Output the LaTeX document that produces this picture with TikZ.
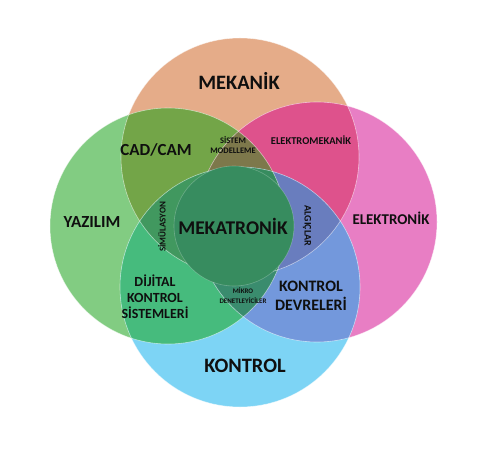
\documentclass[tikz,border=0pt]{standalone}
\usepackage{fontspec}
\setmainfont{Carlito}
\definecolor{cO}{RGB}{229,172,137}
\definecolor{cG}{RGB}{130,204,130}
\definecolor{cP}{RGB}{232,126,196}
\definecolor{cB}{RGB}{125,212,245}
\definecolor{cOG}{RGB}{115,165,72}
\definecolor{cOP}{RGB}{222,82,140}
\definecolor{cGB}{RGB}{70,187,125}
\definecolor{cPB}{RGB}{115,152,220}
\definecolor{cOGP}{RGB}{125,120,75}
\definecolor{cGPB}{RGB}{58,140,110}
\definecolor{cOGB}{RGB}{65,152,95}
\definecolor{cOPB}{RGB}{105,125,190}
\definecolor{cMid}{RGB}{55,140,95}
\definecolor{txt}{RGB}{15,15,15}
\begin{document}
\begin{tikzpicture}[x=1bp,y=-1bp,
  lbl/.style={font=\bfseries, text=txt, align=center, inner sep=0pt},
  rim/.style={draw=white, draw opacity=0.55, line width=0.6bp}]
\useasboundingbox (0,0) rectangle (500,450);
\fill[white] (0,0) rectangle (500,450);
\def\CO{(240,157) circle[radius=119bp]}
\def\CG{(168,226) circle[radius=118bp]}
\def\CP{(317,222) circle[radius=120bp]}
\def\CB{(240,287) circle[radius=120bp]}
% base circles
\fill[cO] \CO;
\fill[cG] \CG;
\fill[cP] \CP;
\fill[cB] \CB;
% pairwise
\begin{scope}\clip \CO; \fill[cOG] \CG; \end{scope}
\begin{scope}\clip \CO; \fill[cOP] \CP; \end{scope}
\begin{scope}\clip \CG; \fill[cGB] \CB; \end{scope}
\begin{scope}\clip \CP; \fill[cPB] \CB; \end{scope}
% triples
\begin{scope}\clip \CO; \clip \CG; \fill[cOGP] \CP; \end{scope}
\begin{scope}\clip \CG; \clip \CP; \fill[cGPB] \CB; \end{scope}
\begin{scope}\clip \CO; \clip \CG; \fill[cOGB] \CB; \end{scope}
\begin{scope}\clip \CO; \clip \CP; \fill[cOPB] \CB; \end{scope}
% quadruple
\begin{scope}\clip \CO; \clip \CG; \clip \CP; \fill[cMid] \CB; \end{scope}
% rims
\draw[rim] \CO; \draw[rim] \CG; \draw[rim] \CP; \draw[rim] \CB;
% centre circle
\fill[cMid] (234,226) circle[radius=60bp];
\draw[rim, draw opacity=0.25] (234,226) circle[radius=60bp];
% labels
\node[lbl, font=\bfseries\fontsize{20.5}{20.5}\selectfont] (mek) at (239,81) {MEKANİK};
\node[lbl, font=\bfseries\fontsize{17}{17}\selectfont] (cad) at (156,150) {CAD/CAM};
\node[lbl, font=\bfseries\fontsize{8.5}{11}\selectfont] (sis) at (233,145) {SİSTEM\\MODELLEME};
\node[lbl, font=\bfseries\fontsize{10.5}{10.5}\selectfont] (elm) at (311,140) {ELEKTROMEKANİK};
\node[lbl, font=\bfseries\fontsize{17}{17}\selectfont] (yaz) at (92,222) {YAZILIM};
\node[lbl, font=\bfseries\fontsize{9}{9}\selectfont, rotate=90] (sim) at (162,227) {SİMÜLASYON};
\node[lbl, font=\bfseries\fontsize{19.5}{19.5}\selectfont] (mkt) at (233,226) {MEKATRONİK};
\node[lbl, font=\bfseries\fontsize{10}{10}\selectfont, rotate=-90] (alg) at (307,226) {ALGIÇLAR};
\node[lbl, font=\bfseries\fontsize{15}{15}\selectfont] (ele) at (391,218) {ELEKTRONİK};
\node[lbl, font=\bfseries\fontsize{14}{16}\selectfont] (dij) at (155,297) {DİJİTAL\\KONTROL\\SİSTEMLERİ};
\node[lbl, font=\bfseries\fontsize{7}{10}\selectfont] (mik) at (243,296) {MİKRO\\DENETLEYİCİLER};
\node[lbl, font=\bfseries\fontsize{16}{19}\selectfont] (kdv) at (311,296) {KONTROL\\DEVRELERİ};
\node[lbl, font=\bfseries\fontsize{20.5}{20.5}\selectfont] (kon) at (245,366) {KONTROL};
\end{tikzpicture}
\end{document}
